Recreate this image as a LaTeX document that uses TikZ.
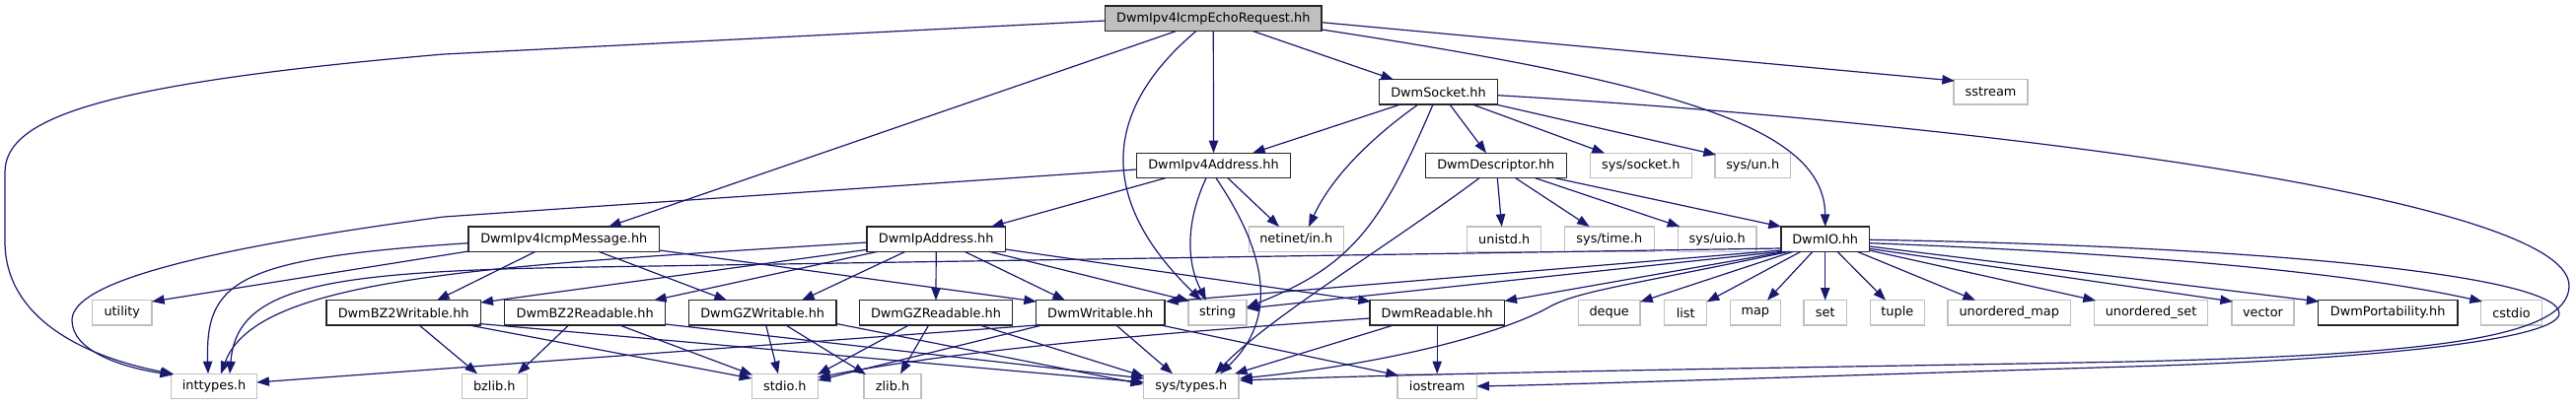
\documentclass[tikz,border=0pt]{standalone}
\usepackage{fontspec}
\setmainfont{DejaVu Sans}
\usetikzlibrary{arrows.meta,calc}
\definecolor{edgecol}{HTML}{191970}
\definecolor{extgray}{HTML}{BFBFBF}
\definecolor{rootfill}{HTML}{BFBFBF}
\tikzset{
  box/.style={draw, rectangle, inner sep=0pt, minimum height=19pt,
    font=\fontsize{9.65}{11}\selectfont, text=black, line width=0.9pt},
  doc/.style={box, draw=black!85, fill=white},
  ext/.style={box, draw=extgray, fill=white},
  rootnode/.style={box, draw=black!85, fill=rootfill},
  bw/.style={minimum width=#1*0.75pt},
  e/.style={draw=edgecol, line width=0.9pt, -{Triangle[length=9.5pt,width=7pt]}},
}
\begin{document}
\begin{tikzpicture}[x=0.75pt,y=-0.75pt]
\useasboundingbox (0,0) rectangle (2612,411);
% ---- nodes ----
\node[rootnode,bw=219.3] (root) at (1230.3,18.7) {DwmIpv4IcmpEchoRequest.hh};
\node[doc,bw=120.3] (socket) at (1458.5,93.3) {DwmSocket.hh};
\node[ext,bw=75] (sstream) at (2018.5,93.3) {sstream};
\node[doc,bw=156.3] (ipv4) at (1230.5,168) {DwmIpv4Address.hh};
\node[doc,bw=143] (desc) at (1516.8,168) {DwmDescriptor.hh};
\node[ext,bw=103] (syssock) at (1663.8,168) {sys/socket.h};
\node[ext,bw=76.3] (sysun) at (1777.2,168) {sys/un.h};
\node[doc,bw=193.7] (icmp) at (571.8,242.7) {DwmIpv4IcmpMessage.hh};
\node[doc,bw=140.3] (ipaddr) at (949.2,242.7) {DwmIpAddress.hh};
\node[ext,bw=96] (netinet) at (1314.3,242.7) {netinet/in.h};
\node[ext,bw=75] (unistd) at (1525.2,242.7) {unistd.h};
\node[ext,bw=91] (systime) at (1631.8,242.7) {sys/time.h};
\node[ext,bw=79.7] (sysuio) at (1741.2,242.7) {sys/uio.h};
\node[doc,bw=89.3] (dwmio) at (1850.7,242.7) {DwmIO.hh};
\node[ext,bw=60.3] (utility) at (123.8,317.3) {utility};
\node[doc,bw=156.3] (bzw) at (409.2,317.3) {DwmBZ2Writable.hh};
\node[doc,bw=163] (bzr) at (593.2,317.3) {DwmBZ2Readable.hh};
\node[doc,bw=149.7] (gzw) at (773.2,317.3) {DwmGZWritable.hh};
\node[doc,bw=154.7] (gzr) at (949,317.3) {DwmGZReadable.hh};
\node[doc,bw=130.7] (writable) at (1115.7,317.3) {DwmWritable.hh};
\node[ext,bw=59] (string) at (1234.5,317.3) {string};
\node[doc,bw=136.3] (readable) at (1457.2,317.3) {DwmReadable.hh};
\node[ext,bw=62.7] (deque) at (1631.7,317.3) {deque};
\node[ext,bw=43] (listn) at (1709.2,317.3) {list};
\node[ext,bw=51] (mapn) at (1779.8,317.3) {map};
\node[ext,bw=43.3] (setn) at (1850.7,317.3) {set};
\node[ext,bw=55] (tuple) at (1923.8,317.3) {tuple};
\node[ext,bw=124.3] (umap) at (2037.2,317.3) {unordered\_map};
\node[ext,bw=114.7] (uset) at (2181,317.3) {unordered\_set};
\node[ext,bw=63] (vector) at (2294.5,317.3) {vector};
\node[doc,bw=141.7] (portab) at (2421.2,317.3) {DwmPortability.hh};
\node[ext,bw=61.7] (cstdio) at (2546.5,317.3) {cstdio};
\node[ext,bw=86.7] (inttypes) at (217,392) {inttypes.h};
\node[ext,bw=66] (bzlib) at (501.3,392) {bzlib.h};
\node[ext,bw=67] (stdio) at (795.8,392) {stdio.h};
\node[ext,bw=58] (zlib) at (905,392) {zlib.h};
\node[ext,bw=96.3] (systypes) at (1207.8,392) {sys/types.h};
\node[ext,bw=80.3] (iostream) at (1457.2,392) {iostream};
% ---- edges: root ----
\draw[e] ($(root)+(-109.3,2.3)$) -- (450,55) .. controls (100,85) and (5,120) .. (5,175) -- (5,245) .. controls (5,330) and (100,365) .. ($(inttypes)+(-41,-12.5)$);
\draw[e] ($(root)+(-37.3,12.7)$) -- ($(icmp)+(45.2,-12.7)$);
\draw[e] ($(root)+(-17.3,12.7)$) .. controls (1120,110) and (1110,200) .. ($(string)+(-16.5,-12.6)$);
\draw[e] ($(root)+(0,12.7)$) -- ($(ipv4)+(0,-12.7)$);
\draw[e] ($(root)+(39.7,12.7)$) -- ($(socket)+(-45.5,-12.6)$);
\draw[e] ($(root)+(109.7,11.3)$) .. controls (1700,85) and (1850,130) .. ($(dwmio)+(0,-12.7)$);
\draw[e] ($(root)+(109.7,4)$) -- ($(sstream)+(-36.5,-11.3)$);
% ---- socket ----
\draw[e] ($(socket)+(-38.5,12.7)$) -- ($(ipv4)+(39.5,-12.7)$);
\draw[e] ($(socket)+(-20.5,12.7)$) .. controls (1390,140) and (1350,180) .. ($(netinet)+(12.7,-12.7)$);
\draw[e] ($(socket)+(-5.5,12.7)$) .. controls (1400,230) and (1370,270) .. ($(string)+(29.5,-5.3)$);
\draw[e] ($(socket)+(11.5,12.7)$) -- ($(desc)+(-9.8,-12.7)$);
\draw[e] ($(socket)+(34.5,12.7)$) -- ($(syssock)+(-36.8,-12.7)$);
\draw[e] ($(socket)+(58.2,12.7)$) -- ($(sysun)+(-37.2,-11)$);
\draw[e] ($(socket)+(60.2,3.4)$) .. controls (2000,125) and (2605,200) .. (2605,290) .. controls (2605,345) and (2450,360) .. (2160,367) .. controls (1900,372) and (1500,377) .. ($(systypes)+(49.2,-6)$);
% ---- descriptor ----
\draw[e] ($(desc)+(-16.8,12.7)$) .. controls (1400,255) and (1290,320) .. ($(systypes)+(24.2,-12.7)$);
\draw[e] ($(desc)+(1.5,12.7)$) -- ($(unistd)+(-2.5,-12.7)$);
\draw[e] ($(desc)+(19.9,12.7)$) -- ($(systime)+(-20.1,-12.7)$);
\draw[e] ($(desc)+(39.9,12.7)$) -- ($(sysuio)+(-37.9,-12.7)$);
\draw[e] ($(desc)+(59.9,12.7)$) -- ($(dwmio)+(-44.7,-12.7)$);
% ---- ipv4 address ----
\draw[e] ($(ipv4)+(-78.2,4)$) -- (450,220) .. controls (150,260) and (73,295) .. (73,325) .. controls (73,355) and (120,372) .. ($(inttypes)+(-42,-11.5)$);
\draw[e] ($(ipv4)+(-48.8,12.7)$) -- ($(ipaddr)+(55.8,-12.7)$);
\draw[e] ($(ipv4)+(-7.5,12.7)$) .. controls (1200,230) and (1205,270) .. ($(string)+(-11.5,-12.6)$);
\draw[e] ($(ipv4)+(2.5,12.7)$) .. controls (1280,250) and (1300,320) .. ($(systypes)+(29.2,-12.7)$);
\draw[e] ($(ipv4)+(14.5,12.7)$) -- ($(netinet)+(-17.3,-12.7)$);
% ---- icmp message ----
\draw[e] ($(icmp)+(-96.8,4)$) .. controls (240,262) and (208,285) .. ($(inttypes)+(-6,-12.7)$);
\draw[e] ($(icmp)+(-96.8,12.3)$) -- ($(utility)+(30.2,-11.3)$);
\draw[e] ($(icmp)+(-28.8,12.6)$) -- ($(bzw)+(33.8,-12.6)$);
\draw[e] ($(icmp)+(35.2,12.6)$) -- ($(gzw)+(-36.2,-12.6)$);
\draw[e] ($(icmp)+(96.9,11.3)$) -- ($(writable)+(-64.7,-11.3)$);
% ---- ip address ----
\draw[e] ($(ipaddr)+(-69.9,3.3)$) .. controls (500,270) and (260,280) .. ($(inttypes)+(7,-12.7)$);
\draw[e] ($(ipaddr)+(-69.9,10.6)$) -- ($(bzw)+(78.1,-10.3)$);
\draw[e] ($(ipaddr)+(-59.2,12.6)$) -- ($(bzr)+(69.8,-12.6)$);
\draw[e] ($(ipaddr)+(-31.2,12.6)$) -- ($(gzw)+(39.8,-12.6)$);
\draw[e] ($(ipaddr)+(0,12.6)$) -- ($(gzr)+(0,-12.6)$);
\draw[e] ($(ipaddr)+(28.8,12.6)$) -- ($(writable)+(-35.7,-12.6)$);
\draw[e] ($(ipaddr)+(53.8,12.6)$) -- ($(string)+(-28.5,-11.8)$);
\draw[e] ($(ipaddr)+(70.1,10.3)$) -- ($(readable)+(-67.2,-11.3)$);
% ---- DwmIO ----
\draw[e] ($(dwmio)+(-44.7,9.3)$) -- (600,271) .. controls (330,275) and (240,290) .. ($(inttypes)+(16,-12.7)$);
\draw[e] ($(dwmio)+(-44.7,11.3)$) -- ($(writable)+(66.3,-11.3)$);
\draw[e] ($(dwmio)+(-43.7,12.6)$) -- ($(string)+(29.5,-4.3)$);
\draw[e] ($(dwmio)+(-39.7,12.6)$) -- ($(readable)+(68.2,-11.8)$);
\draw[e] ($(dwmio)+(-36.7,12.6)$) .. controls (1650,290) and (1600,295) .. (1570,312) .. controls (1520,340) and (1400,370) .. ($(systypes)+(49.2,-8)$);
\draw[e] ($(dwmio)+(-32.7,12.6)$) -- ($(deque)+(31.4,-11)$);
\draw[e] ($(dwmio)+(-24.7,12.6)$) -- ($(listn)+(21.5,-11)$);
\draw[e] ($(dwmio)+(-12.7,12.6)$) -- ($(mapn)+(12.2,-12.6)$);
\draw[e] ($(dwmio)+(0,12.6)$) -- ($(setn)+(0,-12.6)$);
\draw[e] ($(dwmio)+(12.3,12.6)$) -- ($(tuple)+(-11.8,-12.6)$);
\draw[e] ($(dwmio)+(32.3,12.6)$) -- ($(umap)+(-34.2,-12.6)$);
\draw[e] ($(dwmio)+(44.6,11.3)$) -- ($(uset)+(-56,-12.3)$);
\draw[e] ($(dwmio)+(44.6,9.6)$) -- ($(vector)+(-30.5,-11.3)$);
\draw[e] ($(dwmio)+(44.6,7.3)$) -- ($(portab)+(-69.7,-11.3)$);
\draw[e] ($(dwmio)+(44.6,4)$) .. controls (2200,258) and (2400,280) .. ($(cstdio)+(-29.5,-11.3)$);
\draw[e] ($(dwmio)+(44.6,0.6)$) .. controls (2300,250) and (2595,280) .. (2595,318) .. controls (2595,345) and (2400,365) .. (2160,372) .. controls (1900,380) and (1600,390) .. ($(iostream)+(40.1,0)$);
% ---- compression readers/writers ----
\draw[e] ($(bzw)+(15.8,12.6)$) -- ($(bzlib)+(-17.3,-12.7)$);
\draw[e] ($(bzw)+(65.8,12.6)$) -- ($(stdio)+(-33.5,-8)$);
\draw[e] ($(bzw)+(76.8,11.2)$) -- ($(systypes)+(-47.8,-4)$);
\draw[e] ($(bzr)+(-16.5,12.6)$) -- ($(bzlib)+(23.7,-12.7)$);
\draw[e] ($(bzr)+(34.8,12.6)$) -- ($(stdio)+(-32.8,-11.5)$);
\draw[e] ($(bzr)+(81.5,11.7)$) -- ($(systypes)+(-47.8,-8)$);
\draw[e] ($(gzw)+(3.5,12.6)$) -- ($(stdio)+(-6.8,-12.7)$);
\draw[e] ($(gzw)+(23.5,12.6)$) -- ($(zlib)+(-27,-12)$);
\draw[e] ($(gzw)+(74.8,11.2)$) -- ($(systypes)+(-48.8,-2)$);
\draw[e] ($(gzr)+(-27.3,12.6)$) -- ($(stdio)+(33.2,-12)$);
\draw[e] ($(gzr)+(-7.3,12.6)$) -- ($(zlib)+(8,-12.7)$);
\draw[e] ($(gzr)+(44.3,12.6)$) -- ($(systypes)+(-47.8,-10)$);
% ---- writable / readable ----
\draw[e] ($(writable)+(-62.7,12.6)$) -- ($(inttypes)+(43.3,-4)$);
\draw[e] ($(writable)+(-58.7,12.6)$) -- ($(stdio)+(33.5,-6)$);
\draw[e] ($(writable)+(16,12.6)$) -- ($(systypes)+(-18.8,-12.7)$);
\draw[e] ($(writable)+(61,12.6)$) -- ($(iostream)+(-39.2,-11)$);
\draw[e] ($(readable)+(-68.2,5.7)$) .. controls (1250,333) and (1000,350) .. ($(stdio)+(33.5,-9)$);
\draw[e] ($(readable)+(-43.9,12.6)$) -- ($(systypes)+(44.2,-12.7)$);
\draw[e] ($(readable)+(0,12.6)$) -- ($(iostream)+(0,-12.7)$);
\end{tikzpicture}
\end{document}
